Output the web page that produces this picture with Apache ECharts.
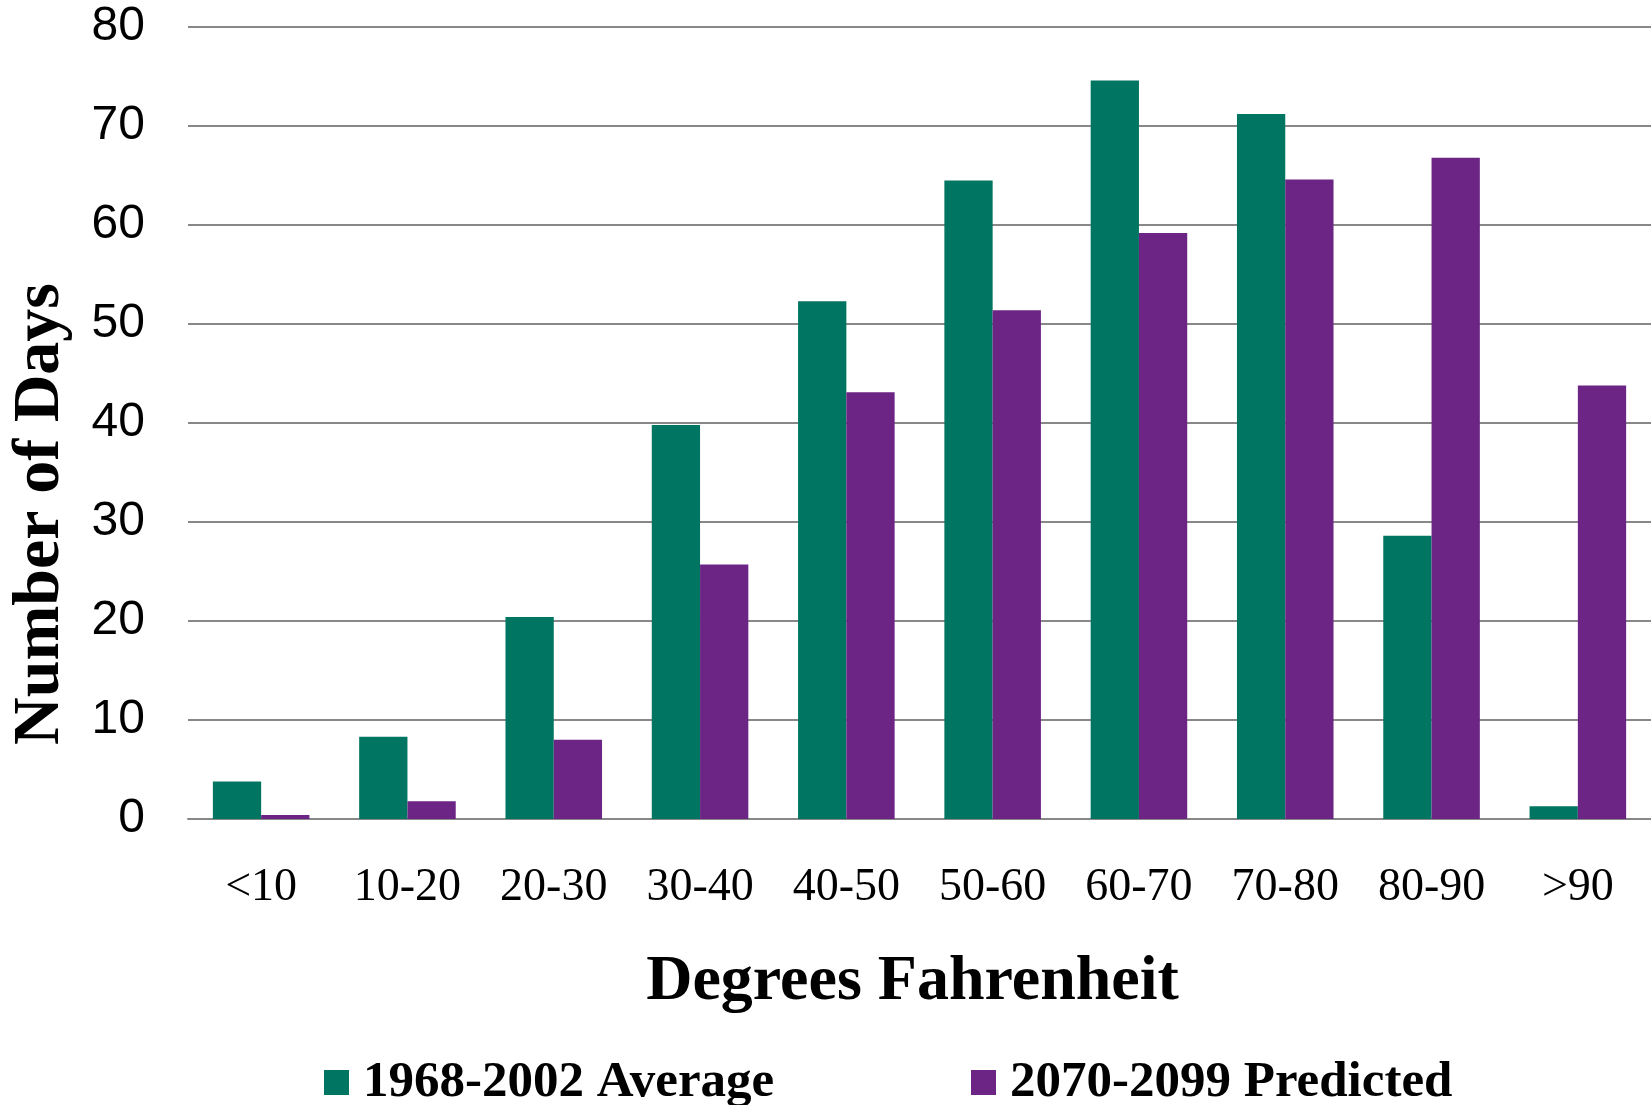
<!DOCTYPE html>
<html>
<head>
<meta charset="utf-8">
<script src="https://cdn.jsdelivr.net/npm/echarts@6/dist/echarts.min.js"></script>
<style>
html,body{margin:0;padding:0;background:#fff;}
#chart{width:1651px;height:1105px;}
</style>
</head>
<body>
<div id="chart"></div>
<script>
const categories = ['<10','10-20','20-30','30-40','40-50','50-60','60-70','70-80','80-90','>90'];
const seriesNames = ['1968-2002 Average','2070-2099 Predicted'];
const historical = [3.8, 8.3, 20.4, 39.8, 52.3, 64.5, 74.6, 71.2, 28.6, 1.3];
const predicted = [0.4, 1.8, 8.0, 25.7, 43.1, 51.4, 59.2, 64.6, 66.8, 43.8];
const yTicks = [0, 10, 20, 30, 40, 50, 60, 70, 80];
const xTitle = 'Degrees Fahrenheit';
const yTitle = 'Number of Days';

const GREEN = '#007561';
const PURPLE = '#6D2585';
const serif = '"Liberation Serif", "DejaVu Serif", serif';
const sans = '"Liberation Sans", Arial, sans-serif';

const chart = echarts.init(document.getElementById('chart'), null, {renderer: 'canvas'});
const legendText = {fontFamily: serif, fontWeight: 'bold', fontSize: 51, color: '#000', padding: [0, 0, 0, 9]};
chart.setOption({
  backgroundColor: '#fff',
  animation: false,
  grid: {left: 183, right: 0, top: 27, bottom: 286, containLabel: false},
  legend: [
    {data: [seriesNames[0]], left: 324, top: 1057, itemWidth: 25, itemHeight: 25, itemGap: 0,
     icon: 'rect', textStyle: legendText, padding: 0},
    {data: [seriesNames[1]], left: 971, top: 1057, itemWidth: 25, itemHeight: 25, itemGap: 0,
     icon: 'rect', textStyle: legendText, padding: 0}
  ],
  xAxis: {
    type: 'category',
    data: categories,
    name: xTitle,
    nameLocation: 'middle',
    nameGap: 131,
    nameTextStyle: {fontFamily: serif, fontWeight: 'bold', fontSize: 64, color: '#000', padding: [0, 14, 0, 0]},
    axisLine: {show: true, lineStyle: {color: '#888', width: 2}},
    axisTick: {show: false},
    axisLabel: {fontFamily: serif, fontSize: 46, color: '#000', margin: 46, interval: 0}
  },
  yAxis: {
    type: 'value',
    min: yTicks[0],
    max: yTicks[yTicks.length - 1],
    interval: yTicks[1] - yTicks[0],
    name: yTitle,
    nameLocation: 'middle',
    nameGap: 114,
    nameTextStyle: {fontFamily: serif, fontWeight: 'bold', fontSize: 66, color: '#000', padding: [0, 182, 0, 0]},
    axisLine: {show: false},
    axisTick: {show: false},
    splitLine: {show: true, lineStyle: {color: '#888', width: 2}},
    axisLabel: {fontFamily: sans, fontSize: 48, color: '#000', margin: 43}
  },
  series: [
    {name: seriesNames[0], type: 'bar', data: historical, itemStyle: {color: GREEN},
     barGap: '0%', barCategoryGap: '34%'},
    {name: seriesNames[1], type: 'bar', data: predicted, itemStyle: {color: PURPLE},
     barGap: '0%', barCategoryGap: '34%'}
  ]
});
</script>
</body>
</html>
